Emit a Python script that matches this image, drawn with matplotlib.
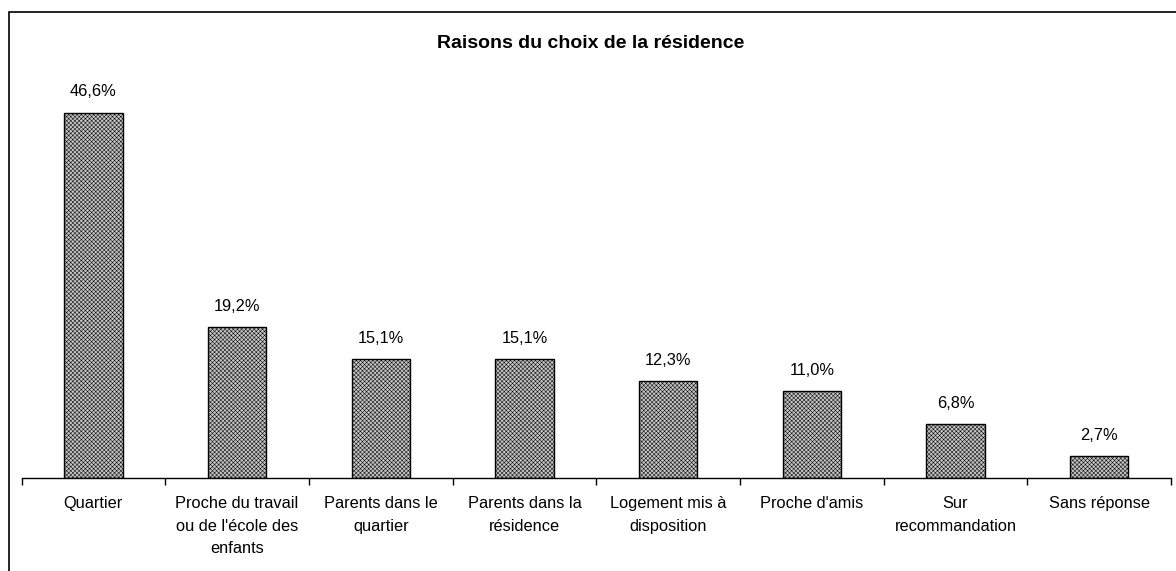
import matplotlib.pyplot as plt
import numpy as np
from matplotlib.patches import Rectangle

categories = [
    "Quartier",
    "Proche du travail\nou de l'école des\nenfants",
    "Parents dans le\nquartier",
    "Parents dans la\nrésidence",
    "Logement mis à\ndisposition",
    "Proche d'amis",
    "Sur\nrecommandation",
    "Sans réponse",
]
values = [46.6, 19.2, 15.1, 15.1, 12.3, 11.0, 6.8, 2.7]
value_labels = ["46,6%", "19,2%", "15,1%", "15,1%", "12,3%", "11,0%", "6,8%", "2,7%"]

plt.rcParams["font.family"] = ["Liberation Sans", "DejaVu Sans"]
plt.rcParams["hatch.linewidth"] = 0.35

W, H = 1176, 571
fig = plt.figure(figsize=(W / 100, H / 100), dpi=100)
ax = fig.add_axes([21.5 / W, 1 - 477.5 / H, (1171 - 21.5) / W, (477.5 - 86.5) / H])

x = np.arange(len(categories))
ax.bar(x, values, width=0.406, color="#c4c4c4", edgecolor="black",
       linewidth=1.0, hatch="xxxxxxxx")

for xi, v, lab in zip(x, values, value_labels):
    ax.text(xi, v + 1.75, lab, ha="center", va="bottom", fontsize=11.8)

ax.set_xlim(-0.5, len(categories) - 0.5)
ax.set_ylim(0, 50)
ax.set_xticks(x)
ax.set_xticklabels(categories, fontsize=11.8, linespacing=1.62, va="top")
ax.tick_params(axis="x", which="major", length=0, pad=13.5)
ax.set_xticks(np.arange(-0.5, len(categories)), minor=True)
ax.tick_params(axis="x", which="minor", length=5, width=1, direction="out")
ax.set_yticks([])
for s in ["left", "right", "top"]:
    ax.spines[s].set_visible(False)
ax.spines["bottom"].set_linewidth(1)

fig.text(591 / W, 1 - 44 / H, "Raisons du choix de la résidence",
         ha="center", va="center", fontsize=14, fontweight="bold")

# outer frame of the chart, cut by the right and bottom edges
fig.patches.append(Rectangle((8.5 / W, -10 / H), 1200 / W, (H - 12 + 10) / H,
                             transform=fig.transFigure, fill=False,
                             edgecolor="black", linewidth=1.2))

fig.savefig("out.png", dpi=100)
